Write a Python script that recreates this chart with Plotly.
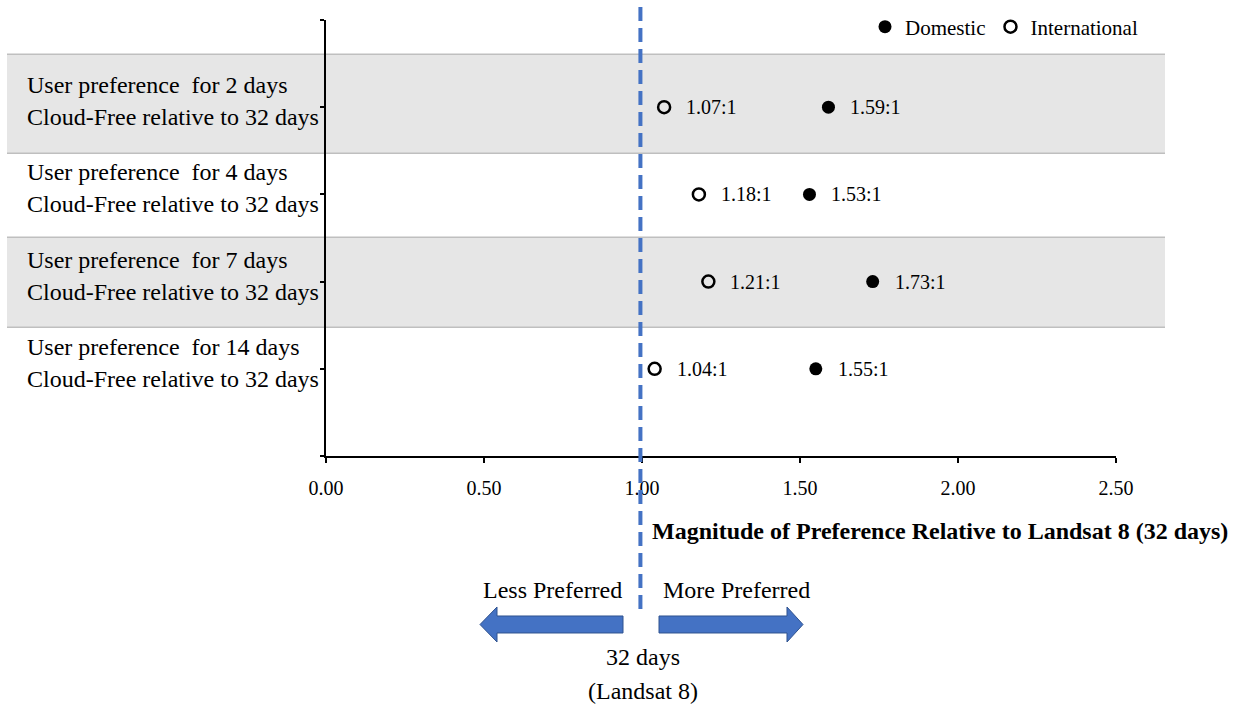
import plotly.graph_objects as go

# Survey results: user preference ratios relative to the 32-day Landsat 8 revisit
categories = ["2 days", "4 days", "7 days", "14 days"]
row_pos = [4, 3, 2, 1]
domestic = [1.59, 1.53, 1.73, 1.55]
international = [1.07, 1.18, 1.21, 1.04]
x_ticks = [0.0, 0.5, 1.0, 1.5, 2.0, 2.5]

W, H = 1250, 707
L, R, T, B = 326, 134, 20, 251
PW, PH = W - L - R, H - T - B
FONT = "Liberation Serif, Times New Roman, serif"
BLUE = "#4472C4"


def px_x(p):
    return (p - L) / PW


def px_y(p):
    return (H - B - p) / PH


fig = go.Figure()

fig.add_trace(go.Scatter(
    x=domestic, y=row_pos, mode="markers", name="Domestic",
    marker=dict(symbol="circle", size=13, color="black"),
))
fig.add_trace(go.Scatter(
    x=international, y=row_pos, mode="markers", name="International",
    marker=dict(symbol="circle-open", size=12, color="black", line=dict(width=2.5)),
))

annotations = []
# value labels beside each marker
for vals in (domestic, international):
    for v, yy in zip(vals, row_pos):
        annotations.append(dict(
            x=v, y=yy, xref="x", yref="y", text=f"{v:.2f}:1", showarrow=False,
            xanchor="left", yanchor="middle", xshift=20,
            font=dict(family=FONT, size=20, color="black"),
        ))

# row labels on the left
for cat, yy in zip(categories, row_pos):
    annotations.append(dict(
        x=px_x(25), y=yy, xref="paper", yref="y",
        text=f"User preference\u00a0 for {cat}", showarrow=False,
        xanchor="left", yanchor="middle", yshift=22,
        font=dict(family=FONT, size=24, color="black"),
    ))
    annotations.append(dict(
        x=px_x(25), y=yy, xref="paper", yref="y",
        text="Cloud-Free relative to 32 days", showarrow=False,
        xanchor="left", yanchor="middle", yshift=-10,
        font=dict(family=FONT, size=24, color="black"),
    ))

# axis title and direction notes
annotations.append(dict(
    x=px_x(650), y=px_y(531), xref="paper", yref="paper",
    text="<b>Magnitude of Preference Relative to Landsat 8 (32 days)</b>",
    showarrow=False, xanchor="left", yanchor="middle",
    font=dict(family=FONT, size=24, color="black"),
))
for txt, cx, cy in [("Less Preferred", 552, 590), ("More Preferred", 736, 590),
                    ("32 days", 643, 657), ("(Landsat 8)", 643, 691)]:
    annotations.append(dict(
        x=px_x(cx), y=px_y(cy), xref="paper", yref="paper", text=txt,
        showarrow=False, xanchor="center", yanchor="middle",
        font=dict(family=FONT, size=24, color="black"),
    ))

shapes = []
# alternating row bands
band_edges = [4.607, 3.471, 2.508, 1.476]
bx0, bx1 = px_x(7), px_x(1165)
for y0, y1 in [(band_edges[1], band_edges[0]), (band_edges[3], band_edges[2])]:
    shapes.append(dict(type="rect", xref="paper", yref="y", x0=bx0, x1=bx1,
                       y0=y0, y1=y1, fillcolor="#E6E6E6", line=dict(width=0),
                       layer="below"))
for e in band_edges:
    shapes.append(dict(type="line", xref="paper", yref="y", x0=bx0, x1=bx1,
                       y0=e, y1=e, line=dict(color="#BFBFBF", width=1.5),
                       layer="below"))

# reference line at parity
shapes.append(dict(type="line", xref="x", yref="paper", x0=0.995, x1=0.995,
                   y0=px_y(609), y1=px_y(6),
                   line=dict(color=BLUE, width=4, dash="14px,7px"), layer="above"))


def arrow_path(pts):
    return "M " + " L ".join(f"{px_x(a):.5f},{px_y(b):.5f}" for a, b in pts) + " Z"


left_arrow = [(480, 624.5), (497, 607), (497, 616), (623, 616),
              (623, 633), (497, 633), (497, 642)]
right_arrow = [(659, 616), (787, 616), (787, 607), (803, 624.5),
               (787, 642), (787, 633), (659, 633)]
for pts in (left_arrow, right_arrow):
    shapes.append(dict(type="path", xref="paper", yref="paper", path=arrow_path(pts),
                       fillcolor=BLUE, line=dict(color="#2F528F", width=1),
                       layer="above"))

fig.update_layout(
    width=W, height=H,
    margin=dict(l=L, r=R, t=T, b=B, pad=0, autoexpand=False),
    plot_bgcolor="rgba(0,0,0,0)", paper_bgcolor="white",
    font=dict(family=FONT, color="black"),
    showlegend=True,
    legend=dict(orientation="h", x=px_x(865), y=px_y(27), xanchor="left",
                yanchor="middle", bgcolor="rgba(0,0,0,0)",
                font=dict(family=FONT, size=21, color="black"),
                itemwidth=30, tracegroupgap=0),
    xaxis=dict(range=[0, 2.5], tickvals=x_ticks, tickformat=".2f",
               showgrid=False, zeroline=False, showline=True,
               linecolor="black", linewidth=2, ticks="outside", ticklen=5,
               tickwidth=1.5, tickcolor="black", ticklabelstandoff=8,
               tickfont=dict(family=FONT, size=20, color="black")),
    yaxis=dict(range=[0, 5], tickvals=[0, 1, 2, 3, 4, 5], showticklabels=False,
               showgrid=False, zeroline=False, showline=True,
               linecolor="black", linewidth=2, ticks="outside", ticklen=4,
               tickwidth=1.5, tickcolor="black"),
    annotations=annotations, shapes=shapes,
)

fig.write_html("out.html")
